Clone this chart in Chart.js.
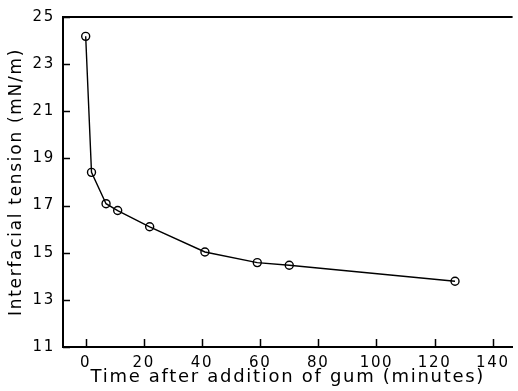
<!DOCTYPE html>
<html>
<head>
<meta charset="utf-8">
<script src="https://cdn.jsdelivr.net/npm/chart.js@4"></script>
<style>
  html, body { margin: 0; padding: 0; background: #fff; }
  #wrap { width: 518px; height: 391px; }
</style>
</head>
<body>
<div id="wrap"><canvas id="chart" width="518" height="391"></canvas></div>
<script>
// minutes after gum was added
const minutes = [0, 2, 7, 11, 22, 41, 59, 70, 127];
// interfacial tension, mN/m
const tension = [24.18, 18.41, 17.08, 16.79, 16.1, 15.03, 14.58, 14.47, 13.79];

const xTicks = [0, 20, 40, 60, 80, 100, 120, 140];
const yTicks = [11, 13, 15, 17, 19, 21, 23, 25];

const xTitle = 'Time after addition of gum (minutes)';
const yTitle = 'Interfacial tension (mN/m)';

const fontFamily = '"DejaVu Sans", sans-serif';

// letter spacing like the old plotter font
const spacing = {
  id: 'spacing',
  beforeDraw(chart) {
    chart.ctx.letterSpacing = '1.7px';
  }
};

// inward tick marks + top frame line
const frame = {
  id: 'frame',
  afterDraw(chart) {
    const ctx = chart.ctx;
    const a = chart.chartArea;
    const xs = chart.scales.x, ys = chart.scales.y;
    ctx.save();
    ctx.strokeStyle = '#000';
    ctx.lineWidth = 1.5;
    ctx.beginPath();
    xTicks.forEach(v => {
      const px = Math.round(xs.getPixelForValue(v)) + 0.5;
      ctx.moveTo(px, a.bottom);
      ctx.lineTo(px, a.bottom - 8);
    });
    yTicks.forEach(v => {
      const py = Math.round(ys.getPixelForValue(v)) + 0.5;
      ctx.moveTo(a.left, py);
      ctx.lineTo(a.left + 7, py);
    });
    ctx.stroke();
    ctx.lineWidth = 2;
    ctx.beginPath();
    ctx.moveTo(a.left, a.top);
    ctx.lineTo(a.right, a.top);
    ctx.stroke();
    ctx.restore();
  }
};

new Chart(document.getElementById('chart'), {
  type: 'line',
  data: {
    datasets: [{
      data: minutes.map((m, i) => ({ x: m, y: tension[i] })),
      borderColor: '#000',
      borderWidth: 1.4,
      pointRadius: 4,
      pointBorderWidth: 1.4,
      pointBorderColor: '#000',
      pointBackgroundColor: 'rgba(255,255,255,0)',
      tension: 0
    }]
  },
  options: {
    responsive: false,
    animation: false,
    layout: { padding: { top: 16, right: 1 } },
    plugins: { legend: { display: false }, tooltip: { enabled: false } },
    scales: {
      x: {
        type: 'linear',
        min: -7.8,
        max: 146.8,
        afterBuildTicks: s => { s.ticks = xTicks.map(v => ({ value: v })); },
        afterFit: s => { s.height = 44; },
        grid: { drawOnChartArea: false, drawTicks: false },
        border: { color: '#000', width: 2 },
        ticks: { color: '#000', padding: 7, font: { family: fontFamily, size: 15 } },
        title: {
          display: true,
          text: xTitle,
          color: '#000',
          padding: { top: 0, bottom: 3 },
          font: { family: fontFamily, size: 18 }
        }
      },
      y: {
        min: 11,
        max: 25,
        afterBuildTicks: s => { s.ticks = yTicks.map(v => ({ value: v })); },
        afterFit: s => { s.width = 63; },
        grid: { drawOnChartArea: false, drawTicks: false },
        border: { color: '#000', width: 2 },
        ticks: { color: '#000', padding: 8, font: { family: fontFamily, size: 15 } },
        title: {
          display: true,
          text: yTitle,
          color: '#000',
          padding: { top: 6, bottom: 0 },
          font: { family: fontFamily, size: 17 }
        }
      }
    }
  },
  plugins: [spacing, frame]
});
</script>
</body>
</html>
